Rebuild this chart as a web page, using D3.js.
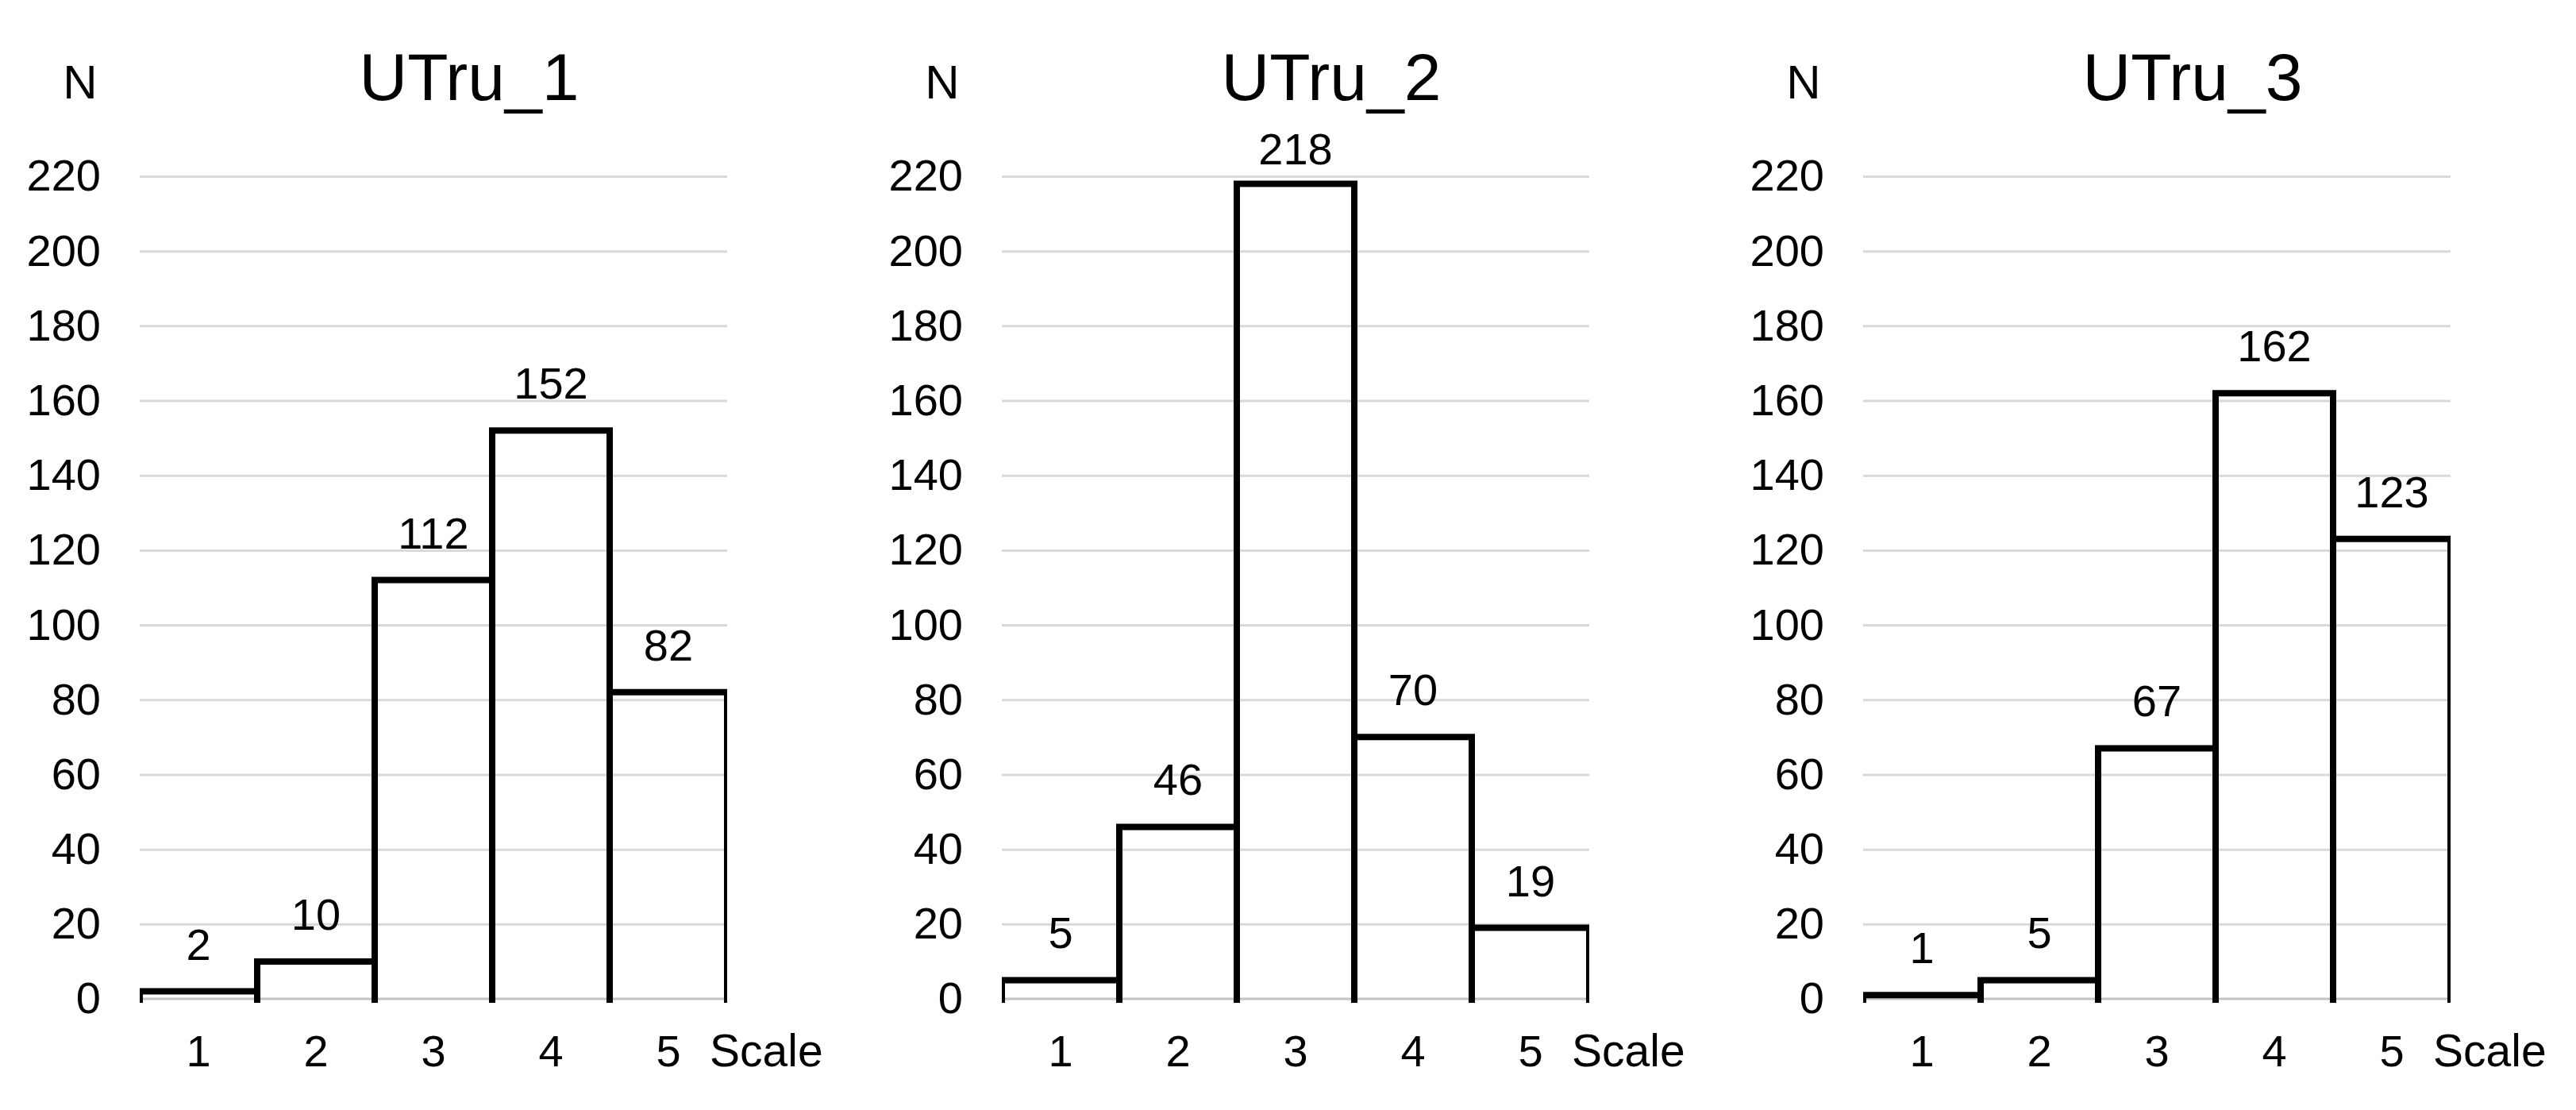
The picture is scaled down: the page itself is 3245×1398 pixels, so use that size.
<!DOCTYPE html>
<html>
<head>
<meta charset="utf-8">
<script src="https://cdn.jsdelivr.net/npm/d3@7"></script>
<style>
  html, body { margin: 0; padding: 0; background: #fff; }
  text { font-family: "Liberation Sans", Arial, sans-serif; fill: #000; }
</style>
</head>
<body>
<script>
// Data
const scaleCategories = ["1", "2", "3", "4", "5"];
const panelTitles = ["UTru_1", "UTru_2", "UTru_3"];
const utru1 = [2, 10, 112, 152, 82];
const utru2 = [5, 46, 218, 70, 19];
const utru3 = [1, 5, 67, 162, 123];
const yTicks = [0, 20, 40, 60, 80, 100, 120, 140, 160, 180, 200, 220];

const panelValues = [utru1, utru2, utru3];

const width = 3245, height = 1398;
const plotWidth = 740;
const panelLefts = [176, 1262, 2347];
const yBottom = 1258, yTop = 222;

const svg = d3.select("body").append("svg")
    .attr("xmlns", "http://www.w3.org/2000/svg")
    .attr("width", width)
    .attr("height", height);

svg.append("rect")
    .attr("width", width)
    .attr("height", height)
    .attr("fill", "#fff");

const y = d3.scaleLinear().domain([0, 220]).range([yBottom, yTop]);

panelValues.forEach((values, i) => {
    const x0 = panelLefts[i], x1 = x0 + plotWidth;
    const x = d3.scaleBand().domain(scaleCategories).range([x0, x1]).padding(0);
    const g = svg.append("g");

    // gridlines
    g.append("g")
        .attr("transform", `translate(${x0},0)`)
        .call(d3.axisLeft(y).tickValues(yTicks.filter(t => t > 0)).tickSize(-plotWidth).tickFormat(""))
        .call(s => s.select(".domain").remove())
        .call(s => s.selectAll("line").attr("stroke", "#d9d9d9").attr("stroke-width", 3));

    // baseline
    g.append("line")
        .attr("x1", x0).attr("x2", x1)
        .attr("y1", y(0)).attr("y2", y(0))
        .attr("stroke", "#c4c4c4")
        .attr("stroke-width", 3);

    // y tick labels
    g.append("g")
        .attr("transform", `translate(${x0},0)`)
        .call(d3.axisLeft(y).tickValues(yTicks).tickSize(0).tickPadding(49))
        .call(s => s.select(".domain").remove())
        .call(s => s.selectAll("text")
            .attr("font-size", 56)
            .attr("font-family", "'Liberation Sans', Arial, sans-serif")
            .attr("fill", "#000"));

    // x tick labels
    g.append("g")
        .attr("transform", `translate(0,${y(0)})`)
        .call(d3.axisBottom(x).tickSize(0).tickPadding(45))
        .call(s => s.select(".domain").remove())
        .call(s => s.selectAll("text")
            .attr("font-size", 56)
            .attr("font-family", "'Liberation Sans', Arial, sans-serif")
            .attr("fill", "#000"));

    // bars clipped to the plot area, open at the bottom
    const clipId = "clip" + i;
    g.append("clipPath").attr("id", clipId)
        .append("rect")
        .attr("x", x0).attr("y", 0)
        .attr("width", plotWidth).attr("height", y(0) + 6);

    g.append("g")
        .attr("clip-path", `url(#${clipId})`)
        .selectAll("path")
        .data(values)
        .join("path")
        .attr("d", (v, j) => {
            const left = x(scaleCategories[j]), right = left + x.bandwidth();
            const base = y(0) + 5;
            return `M${left},${base}V${y(v)}H${right}V${base}`;
        })
        .attr("fill", "none")
        .attr("stroke", "#000")
        .attr("stroke-width", 8)
        .attr("stroke-linejoin", "miter");

    // value labels
    g.selectAll(".val")
        .data(values)
        .join("text")
        .attr("class", "val")
        .attr("x", (v, j) => x(scaleCategories[j]) + x.bandwidth() / 2)
        .attr("y", v => Math.max(y(v) - 40, 207))
        .attr("text-anchor", "middle")
        .attr("font-size", 56)
        .text(v => v);

    // axis names and title
    g.append("text")
        .attr("x", x1 - 22)
        .attr("y", 1343)
        .attr("font-size", 57)
        .text("Scale");

    g.append("text")
        .attr("x", x0 - 75)
        .attr("y", 124)
        .attr("text-anchor", "middle")
        .attr("font-size", 60)
        .text("N");

    g.append("text")
        .attr("x", (x0 + x1) / 2 + 45)
        .attr("y", 126)
        .attr("text-anchor", "middle")
        .attr("font-size", 84)
        .text(panelTitles[i]);
});
</script>
</body>
</html>
